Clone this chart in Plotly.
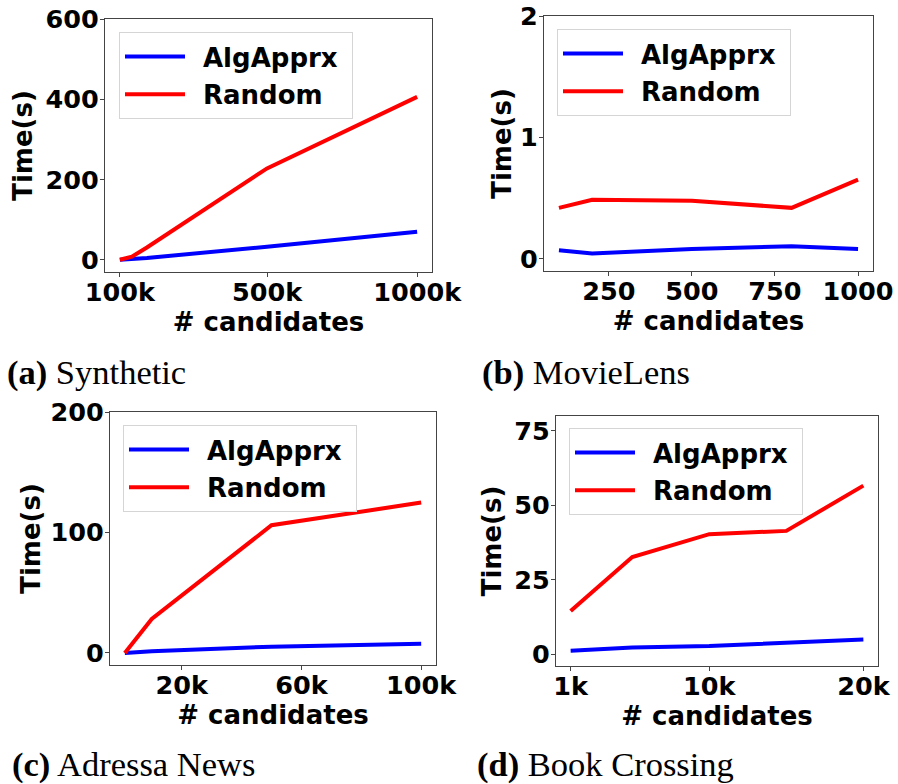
import plotly.graph_objects as go

W, H = 898, 784

# ---------------- data ----------------
series_names = ["AlgApprx", "Random"]
series_colors = ["#0000ff", "#ff0000"]

# (a) Synthetic (x in thousands of candidates)
syn_x = [10, 50, 100, 500, 1000]
syn_alg = [0.5, 2, 5, 33, 70.5]
syn_rand = [0.5, 8, 31, 228, 406]
syn_xticks = [10, 500, 1000]
syn_xtext = ["100k", "500k", "1000k"]
syn_yticks = [0, 200, 400, 600]

# (b) MovieLens
mov_x = [100, 200, 500, 800, 1000]
mov_alg = [0.071, 0.044, 0.082, 0.104, 0.082]
mov_rand = [0.42, 0.487, 0.479, 0.42, 0.652]
mov_xticks = [250, 500, 750, 1000]
mov_xtext = ["250", "500", "750", "1000"]
mov_yticks = [0, 1, 2]

# (c) Adressa News (x in thousands)
adr_x = [1, 10, 50, 100]
adr_alg = [0, 1.5, 5.2, 7.7]
adr_rand = [0, 28.2, 106, 124.8]
adr_xticks = [20, 60, 100]
adr_xtext = ["20k", "60k", "100k"]
adr_yticks = [0, 100, 200]

# (d) Book Crossing (x in thousands)
bk_x = [1, 5, 10, 15, 20]
bk_alg = [1.1, 2.2, 2.7, 3.8, 4.9]
bk_rand = [14.5, 32.6, 40.3, 41.4, 56.6]
bk_xticks = [1, 10, 20]
bk_xtext = ["1k", "10k", "20k"]
bk_yticks = [0, 25, 50, 75]

captions = [("(a)", "Synthetic"), ("(b)", "MovieLens"),
            ("(c)", "Adressa News"), ("(d)", "Book Crossing")]

# ---------------- layout geometry (pixels) ----------------
panels = [
    dict(x=syn_x, ys=[syn_alg, syn_rand], xt=syn_xticks, xtt=syn_xtext, yt=syn_yticks,
         xr=[-39.5, 1049.5], yr=[-30, 600], box=(105, 432, 19, 272), leg=(119, 32),
         cap=(5, 373), ystand=5),
    dict(x=mov_x, ys=[mov_alg, mov_rand], xt=mov_xticks, xtt=mov_xtext, yt=mov_yticks,
         xr=[55, 1045], yr=[-0.1, 2], box=(544, 873, 16, 271), leg=(557, 29),
         cap=(480, 373), ystand=0),
    dict(x=adr_x, ys=[adr_alg, adr_rand], xt=adr_xticks, xtt=adr_xtext, yt=adr_yticks,
         xr=[-3.95, 104.95], yr=[-10, 200], box=(110, 436, 412, 665), leg=(123, 425),
         cap=(10, 764), ystand=2),
    dict(x=bk_x, ys=[bk_alg, bk_rand], xt=bk_xticks, xtt=bk_xtext, yt=bk_yticks,
         xr=[0.05, 20.95], yr=[-4, 80], box=(556, 878, 416, 666), leg=(569, 428),
         cap=(475, 764), ystand=5),
]


def fx(px):
    return px / W


def fy(py):
    return 1 - py / H


FONT = "DejaVu Sans"
TICK_FS = 25.5
TITLE_FS = 26
LEG_FS = 26
LEAD = "\u2002"
TRAIL = "\u00a0"

fig = go.Figure()
layout = dict(
    width=W, height=H, margin=dict(l=0, r=0, t=0, b=0, autoexpand=False),
    paper_bgcolor="white", plot_bgcolor="white",
    font=dict(family=FONT, size=TICK_FS, color="black"),
    showlegend=True,
)
annotations = []

for i, p in enumerate(panels):
    n = "" if i == 0 else str(i + 1)
    xa, ya = "x" + n, "y" + n
    legname = "legend" + n
    for k in range(2):
        fig.add_trace(go.Scatter(
            x=p["x"], y=p["ys"][k], mode="lines",
            name=f"<b>{LEAD}{series_names[k]}{TRAIL}</b>",
            line=dict(color=series_colors[k], width=4),
            xaxis=xa, yaxis=ya, legend=legname, legendgroup=f"g{i}{k}",
        ))
    x0, x1, y0, y1 = p["box"]
    axis_common = dict(
        showline=True, mirror=True, linecolor="#444444", linewidth=1.3,
        ticks="outside", ticklen=4, tickwidth=1.3, tickcolor="#444444",
        showgrid=False, zeroline=False, automargin=False,
        ticklabeloverflow="allow",
        tickfont=dict(family=FONT, size=TICK_FS, color="black"),
    )
    layout["xaxis" + n] = dict(
        axis_common, domain=[fx(x0), fx(x1)], anchor=ya, range=p["xr"],
        tickmode="array", tickvals=p["xt"], ticktext=[f"<b>{t}</b>" for t in p["xtt"]],
        ticklabelstandoff=-7,
        title=dict(text="<b># candidates</b>", standoff=0,
                   font=dict(family=FONT, size=TITLE_FS, color="black")),
    )
    layout["yaxis" + n] = dict(
        axis_common, domain=[fy(y1), fy(y0)], anchor=xa, range=p["yr"],
        tickmode="array", tickvals=p["yt"], ticktext=[f"<b>{t}</b>" for t in p["yt"]],
        ticklabelstandoff=-4,
        title=dict(text="<b>Time(s)</b>", standoff=p["ystand"],
                   font=dict(family=FONT, size=TITLE_FS, color="black")),
    )
    lx, ly = p["leg"]
    layout[legname] = dict(
        x=fx(lx), y=fy(ly), xanchor="left", yanchor="top",
        bgcolor="rgba(255,255,255,0.8)", bordercolor="#d5d5d5", borderwidth=1,
        font=dict(family=FONT, size=LEG_FS, color="black"),
        traceorder="grouped", tracegroupgap=1, itemwidth=60,
    )
    cx, cy = p["cap"]
    tag, name = captions[i]
    annotations.append(dict(
        xref="paper", yref="paper", x=fx(cx), y=fy(cy),
        xanchor="left", yanchor="middle", showarrow=False,
        text=f"<b>{tag}</b> {name}",
        font=dict(family="Liberation Serif", size=34.5, color="black"),
    ))

layout["annotations"] = annotations
fig.update_layout(**layout)

# remove the browser's default 8px body margin so the figure fills the window
fig.write_html("out.html",
               config={"displayModeBar": False},
               post_script="document.body.style.margin='0';document.body.style.overflow='hidden';")
